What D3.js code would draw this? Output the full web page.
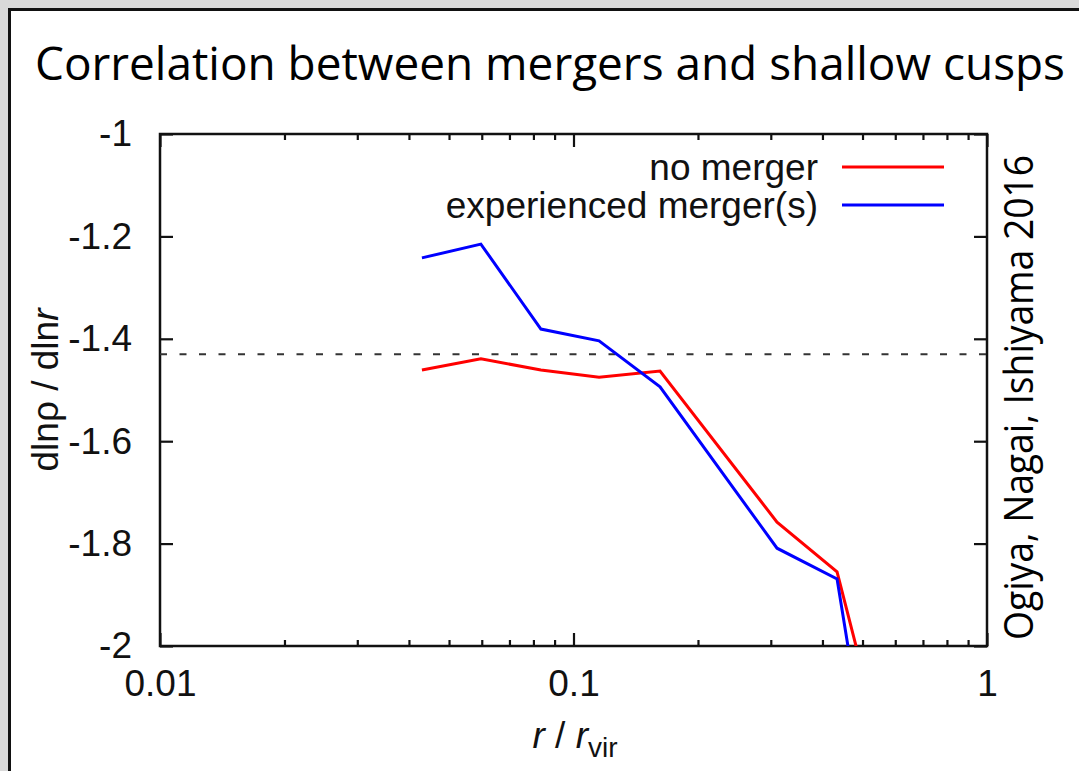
<!DOCTYPE html>
<html>
<head>
<meta charset="utf-8">
<script src="https://cdn.jsdelivr.net/npm/d3@7"></script>
<style>
  html, body { margin: 0; padding: 0; background: #d9d9d9; }
  svg { display: block; }
  .gp { font-family: "Liberation Sans", Arial, Helvetica, sans-serif; fill: #111; }
</style>
</head>
<body>
<svg id="chart" width="1079" height="771"></svg>
<script>
// Radii (r / r_vir) at which the logarithmic density slope is measured
const radii = [0.0430, 0.0597, 0.0834, 0.1153, 0.1619, 0.3106, 0.4339, 0.60];
// Slope dln(rho)/dln(r) for haloes without mergers
const noMerger = [-1.461, -1.439, -1.461, -1.475, -1.463, -1.758, -1.855, -2.30];
// Slope for haloes that experienced merger(s)
const withMerger = [-1.242, -1.215, -1.381, -1.404, -1.494, -1.809, -1.869, -2.57];
// Reference slope (dashed line)
const referenceSlope = -1.43;

const xMajorTicks = [0.01, 0.1, 1];
const xMinorTicks = [0.02, 0.03, 0.04, 0.05, 0.06, 0.07, 0.08, 0.09,
                     0.2, 0.3, 0.4, 0.5, 0.6, 0.7, 0.8, 0.9];
const yTicks = [-2, -1.8, -1.6, -1.4, -1.2, -1];
const xTickLabels = ["0.01", "0.1", "1"];
const yTickLabels = ["-2", "-1.8", "-1.6", "-1.4", "-1.2", "-1"];

const seriesNames = ["no merger", "experienced merger(s)"];
const seriesColors = ["#ff0000", "#0000ff"];

const svg = d3.select("#chart");

// slide panel with dark frame
svg.append("rect")
  .attr("x", 9.5).attr("y", 9.5)
  .attr("width", 1100).attr("height", 800)
  .attr("fill", "#ffffff")
  .attr("stroke", "#111").attr("stroke-width", 3);

svg.append("text")
  .attr("x", 35).attr("y", 80)
  .attr("font-family", "'Open Sans', 'Noto Sans', sans-serif")
  .attr("font-size", 45)
  .attr("fill", "#000")
  .attr("textLength", 1030)
  .attr("lengthAdjust", "spacingAndGlyphs")
  .text("Correlation between mergers and shallow cusps");

svg.append("text")
  .attr("transform", "translate(1033,640) rotate(-90)")
  .attr("font-family", "'Open Sans', 'Noto Sans', sans-serif")
  .attr("font-size", 40)
  .attr("fill", "#000")
  .attr("textLength", 485)
  .attr("lengthAdjust", "spacingAndGlyphs")
  .text("Ogiya, Nagai, Ishiyama 2016");

const plotLeft = 160, plotRight = 987, plotTop = 134, plotBottom = 646;
const x = d3.scaleLog().domain([0.01, 1]).range([plotLeft, plotRight]);
const y = d3.scaleLinear().domain([-2, -1]).range([plotBottom, plotTop]);

const fontSize = 37;

function styleAxis(g) {
  g.selectAll("path.domain").remove();
  g.selectAll(".tick line").attr("stroke", "#111").attr("stroke-width", 2.2);
  g.selectAll(".tick text")
    .attr("class", "gp")
    .attr("font-size", fontSize)
    .attr("fill", "#111");
}

// bottom axis: major ticks with labels, minor ticks without
svg.append("g").attr("transform", `translate(0,${plotBottom})`)
  .call(d3.axisBottom(x).tickValues(xMajorTicks).tickSize(-13).tickPadding(24)
    .tickFormat((d, i) => xTickLabels[i]))
  .call(styleAxis);
svg.append("g").attr("transform", `translate(0,${plotBottom})`)
  .call(d3.axisBottom(x).tickValues(xMinorTicks).tickSize(-6).tickFormat(""))
  .call(styleAxis);
// top axis mirror ticks
svg.append("g").attr("transform", `translate(0,${plotTop})`)
  .call(d3.axisTop(x).tickValues(xMajorTicks).tickSize(-13).tickFormat(""))
  .call(styleAxis);
svg.append("g").attr("transform", `translate(0,${plotTop})`)
  .call(d3.axisTop(x).tickValues(xMinorTicks).tickSize(-6).tickFormat(""))
  .call(styleAxis);

// left axis with labels, right axis mirror ticks
svg.append("g").attr("transform", `translate(${plotLeft},0)`)
  .call(d3.axisLeft(y).tickValues(yTicks).tickSize(-13).tickPadding(28)
    .tickFormat((d, i) => yTickLabels[i]))
  .call(styleAxis);
svg.append("g").attr("transform", `translate(${plotRight},0)`)
  .call(d3.axisRight(y).tickValues(yTicks).tickSize(-13).tickFormat(""))
  .call(styleAxis);

// plot border
svg.append("rect")
  .attr("x", plotLeft).attr("y", plotTop)
  .attr("width", plotRight - plotLeft).attr("height", plotBottom - plotTop)
  .attr("fill", "none").attr("stroke", "#111").attr("stroke-width", 2.5);

// clip for data lines
svg.append("clipPath").attr("id", "plotclip")
  .append("rect").attr("x", plotLeft).attr("y", plotTop)
  .attr("width", plotRight - plotLeft).attr("height", plotBottom - plotTop);

// reference slope
svg.append("line")
  .attr("x1", plotLeft).attr("x2", plotRight)
  .attr("y1", y(referenceSlope)).attr("y2", y(referenceSlope))
  .attr("stroke", "#333").attr("stroke-width", 2)
  .attr("stroke-dasharray", "7,12.5");

const line = d3.line().x(d => x(d[0])).y(d => y(d[1]));
const seriesValues = [noMerger, withMerger];
seriesValues.forEach((vals, i) => {
  svg.append("path")
    .datum(radii.map((r, k) => [r, vals[k]]))
    .attr("clip-path", "url(#plotclip)")
    .attr("d", line)
    .attr("fill", "none")
    .attr("stroke", seriesColors[i])
    .attr("stroke-width", 3)
    .attr("stroke-linejoin", "miter");
});

// legend
const legendY = [167, 205];
seriesNames.forEach((name, i) => {
  svg.append("text")
    .attr("class", "gp")
    .attr("x", 818).attr("y", legendY[i] + 13)
    .attr("text-anchor", "end")
    .attr("font-size", fontSize)
    .text(name);
  svg.append("line")
    .attr("x1", 842).attr("x2", 944)
    .attr("y1", legendY[i]).attr("y2", legendY[i])
    .attr("stroke", seriesColors[i]).attr("stroke-width", 3);
});

// axis titles
const yl = svg.append("text")
  .attr("class", "gp")
  .attr("transform", "translate(58,390) rotate(-90)")
  .attr("text-anchor", "middle")
  .attr("font-size", fontSize);
yl.append("tspan").text("dlnρ / dln");
yl.append("tspan").attr("font-style", "italic").text("r");

const xl = svg.append("text")
  .attr("class", "gp")
  .attr("x", 575).attr("y", 748)
  .attr("text-anchor", "middle")
  .attr("font-size", fontSize);
xl.append("tspan").attr("font-style", "italic").text("r");
xl.append("tspan").text(" / ");
xl.append("tspan").attr("font-style", "italic").text("r");
xl.append("tspan").attr("font-size", 28).attr("dy", 9).text("vir");
</script>
</body>
</html>
